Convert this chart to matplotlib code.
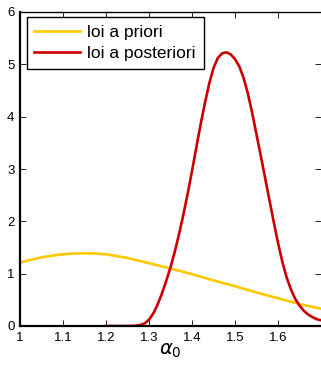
import matplotlib
matplotlib.use("Agg")
import matplotlib.pyplot as plt

plt.rcParams['font.family'] = ['Liberation Sans', 'DejaVu Sans']
plt.rcParams['mathtext.fontset'] = 'dejavusans'

# Prior density of alpha_0
prior_x = [1.00, 1.025, 1.05, 1.075, 1.10, 1.125, 1.15, 1.175, 1.20, 1.25,
           1.30, 1.35, 1.40, 1.45, 1.50, 1.55, 1.60, 1.65, 1.70]
prior_y = [1.21, 1.265, 1.31, 1.345, 1.37, 1.385, 1.39, 1.385, 1.37, 1.30,
           1.20, 1.10, 0.99, 0.87, 0.76, 0.64, 0.53, 0.42, 0.33]

# Posterior density of alpha_0
post_x = [1.20, 1.25, 1.27, 1.28, 1.29, 1.30, 1.31, 1.32, 1.33, 1.34,
          1.35, 1.36, 1.37, 1.38, 1.39, 1.40, 1.41, 1.42, 1.43, 1.44,
          1.45, 1.46, 1.47, 1.48, 1.49, 1.50, 1.51, 1.52, 1.53, 1.54,
          1.55, 1.56, 1.57, 1.58, 1.59, 1.60, 1.61, 1.62, 1.63, 1.64,
          1.65, 1.66, 1.67, 1.68, 1.69, 1.70]
post_y = [0.00, 0.00, 0.005, 0.02, 0.05, 0.12, 0.24, 0.41, 0.62, 0.86,
          1.12, 1.42, 1.76, 2.13, 2.53, 2.96, 3.41, 3.85, 4.26, 4.63,
          4.93, 5.12, 5.21, 5.23, 5.19, 5.10, 4.96, 4.74, 4.44, 4.07,
          3.66, 3.25, 2.83, 2.41, 1.99, 1.59, 1.23, 0.93, 0.70, 0.52,
          0.39, 0.29, 0.22, 0.17, 0.13, 0.11]

labels = ['loi a priori', 'loi a posteriori']
x_ticks = [1, 1.1, 1.2, 1.3, 1.4, 1.5, 1.6]
x_tick_labels = ['1', '1.1', '1.2', '1.3', '1.4', '1.5', '1.6']
y_ticks = [0, 1, 2, 3, 4, 5, 6]

fig = plt.figure(figsize=(3.21, 3.67), dpi=100)
ax = fig.add_axes([20 / 321, 41 / 367, 301 / 321, 314 / 367])

ax.plot(prior_x, prior_y, color='#FFC800', lw=1.9, label=labels[0])
ax.plot(post_x, post_y, color='#CC0000', lw=1.9, label=labels[1])

ax.set_xlim(1, 1.7)
ax.set_ylim(0, 6)
ax.set_xticks(x_ticks)
ax.set_xticklabels(x_tick_labels)
ax.set_yticks(y_ticks)
ax.tick_params(direction='in', length=4, width=0.6, top=True, right=True,
               labelsize=9.5, pad=4, colors='black')
ax.spines['top'].set_linewidth(1.0)
ax.spines['left'].set_linewidth(1.6)
ax.spines['bottom'].set_linewidth(1.6)
ax.spines['right'].set_visible(False)

ax.set_xlabel(r'$\alpha_0$', fontsize=14, labelpad=-1)

leg = ax.legend(loc='upper left', fontsize=12.5, handlelength=2.6,
                handletextpad=0.45, borderpad=0.45, labelspacing=0.35,
                fancybox=False, framealpha=1, edgecolor='black',
                bbox_to_anchor=(0.022, 0.985), borderaxespad=0)
leg.get_frame().set_linewidth(1.0)

fig.savefig('out.png', dpi=100)
